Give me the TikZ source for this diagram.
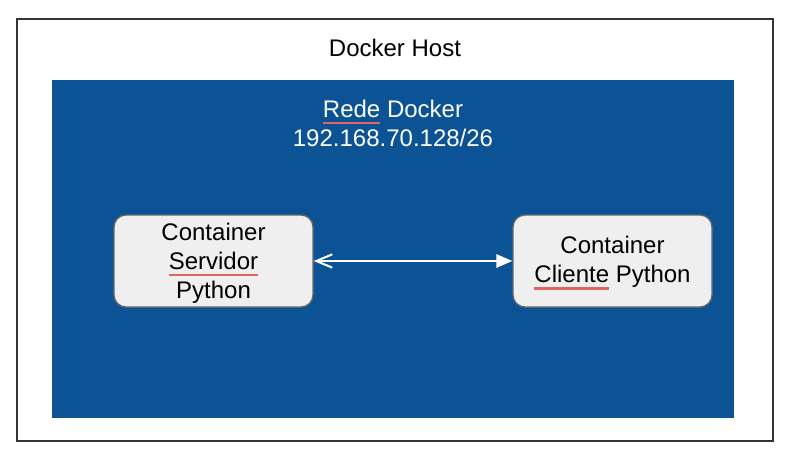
\documentclass[tikz,border=0pt]{standalone}
\usepackage{fontspec}
\setmainfont{Liberation Sans}
\usetikzlibrary{arrows.meta}
\definecolor{dockerblue}{HTML}{0B5394}
\definecolor{boxgray}{HTML}{EFEFEF}
\definecolor{edgegray}{HTML}{666666}
\definecolor{markred}{HTML}{E06666}
\newsavebox{\markbox}
\newcommand{\redmark}[1]{\sbox{\markbox}{#1}\rlap{\textcolor{markred}{\rule[-5pt]{\wd\markbox}{1.6pt}}}\usebox{\markbox}}
\tikzset{
  hostbox/.style={rectangle,draw=black!80,line width=1.4pt,minimum width=567pt,minimum height=316.5pt},
  netbox/.style={rectangle,fill=dockerblue,minimum width=511.5pt,minimum height=253.5pt},
  contbox/.style={rectangle,rounded corners=9pt,draw=edgegray,line width=1pt,fill=boxgray,
    minimum width=149.25pt,minimum height=69pt},
  lbl/.style={align=center,font=\fontsize{18}{21.75}\selectfont}
}
\begin{document}
\begin{tikzpicture}[x=0.75pt,y=-0.75pt]
    \useasboundingbox (0,0) rectangle (801,457);
    % nodes
    \node (host) at (395,230) [hostbox] {};
    \node (hostlabel) at (395,48) [lbl] {Docker Host};
    \node (net) at (393,249) [netbox] {};
    \node (netlabel) at (393,123) [lbl,text=white] {\redmark{Rede} Docker\\192.168.70.128/26};
    \node (server) at (213.5,261) [contbox] {};
    \node (client) at (612.5,261) [contbox] {};
    \node (serverlabel) at (213.5,263) [lbl] {Container\\\redmark{Servidor}\\Python};
    \node (clientlabel) at (612.5,263) [lbl] {Container\\\redmark{Cliente} Python};

    % paths
    \draw[white,line width=1.5pt,{Straight Barb[length=12pt,width=10pt]}-{Triangle[length=12pt,width=10pt]}] (server) -- (client); % server <-> client

\end{tikzpicture}
\end{document}
